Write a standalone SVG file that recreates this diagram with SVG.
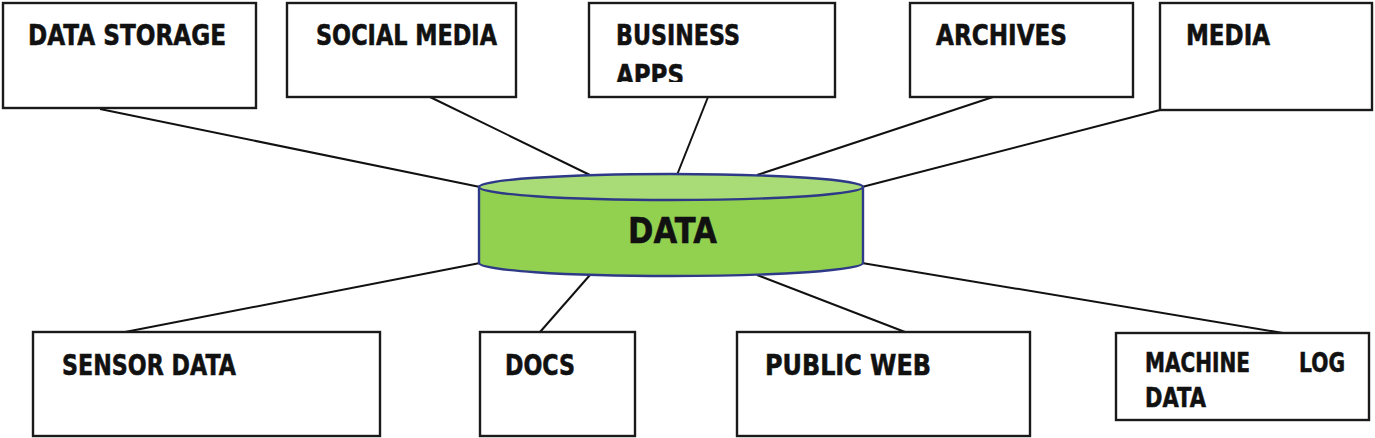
<svg xmlns="http://www.w3.org/2000/svg" width="1375" height="438" viewBox="0 0 1375 438">
<style>
.box{fill:#fff;stroke:#1a1a1a;stroke-width:2.4}
.lbl{font-family:"DejaVu Sans","Liberation Sans",sans-serif;font-weight:bold;font-size:28px;fill:#111;stroke:#111;stroke-width:0.6}
.con{stroke:#111;stroke-width:2;fill:none}
</style>
<defs>
<clipPath id="clipApps"><rect x="589" y="4" width="246" height="78"/></clipPath>
</defs>
<rect width="1375" height="438" fill="#fff"/>
<g id="connectors">
<line class="con" x1="100" y1="109" x2="480" y2="187"/>
<line class="con" x1="430" y1="97" x2="592" y2="176"/>
<line class="con" x1="708" y1="97" x2="677" y2="175"/>
<line class="con" x1="993" y1="97" x2="757" y2="175"/>
<line class="con" x1="1160" y1="110" x2="862" y2="187"/>
<line class="con" x1="125" y1="332" x2="480" y2="263"/>
<line class="con" x1="540" y1="332" x2="590" y2="275"/>
<line class="con" x1="905" y1="332" x2="757" y2="275"/>
<line class="con" x1="1283" y1="333" x2="862" y2="263"/>
</g>
<g id="data">
<path d="M479,187 L479,263 A192,13 0 0 0 863,263 L863,187 Z" fill="#92d050" stroke="#2e3a87" stroke-width="2.4"/>
<ellipse cx="671" cy="187" rx="192" ry="13" fill="#a9dc76" stroke="#2e3a87" stroke-width="2.4"/>
<text class="lbl" x="628" y="243" style="font-size:36px" textLength="89" lengthAdjust="spacingAndGlyphs">DATA</text>
</g>
<g id="data-storage">
<rect class="box" x="3" y="3" width="253" height="105"/>
<text class="lbl" x="28" y="45" textLength="198" lengthAdjust="spacingAndGlyphs">DATA STORAGE</text>
</g>
<g id="social-media">
<rect class="box" x="287" y="3" width="229" height="94"/>
<text class="lbl" x="316" y="45" textLength="181" lengthAdjust="spacingAndGlyphs">SOCIAL MEDIA</text>
</g>
<g id="business-apps">
<rect class="box" x="589" y="3" width="246" height="94"/>
<text class="lbl" x="616" y="45" textLength="124" lengthAdjust="spacingAndGlyphs">BUSINESS</text>
<text class="lbl" x="616" y="85" textLength="68" lengthAdjust="spacingAndGlyphs" clip-path="url(#clipApps)">APPS</text>
</g>
<g id="archives">
<rect class="box" x="910" y="3" width="223" height="94"/>
<text class="lbl" x="936" y="45" textLength="131" lengthAdjust="spacingAndGlyphs">ARCHIVES</text>
</g>
<g id="media">
<rect class="box" x="1160" y="3" width="212" height="107"/>
<text class="lbl" x="1186" y="45" textLength="84" lengthAdjust="spacingAndGlyphs">MEDIA</text>
</g>
<g id="sensor-data">
<rect class="box" x="33" y="332" width="347" height="104"/>
<text class="lbl" x="62" y="375" textLength="174" lengthAdjust="spacingAndGlyphs">SENSOR DATA</text>
</g>
<g id="docs">
<rect class="box" x="480" y="332" width="155" height="104"/>
<text class="lbl" x="505" y="375" textLength="70" lengthAdjust="spacingAndGlyphs">DOCS</text>
</g>
<g id="public-web">
<rect class="box" x="737" y="332" width="293" height="104"/>
<text class="lbl" x="765" y="375" textLength="166" lengthAdjust="spacingAndGlyphs">PUBLIC WEB</text>
</g>
<g id="machine-log-data">
<rect class="box" x="1116" y="333" width="253" height="87"/>
<text class="lbl" x="1145" y="372" style="font-size:26px" textLength="105" lengthAdjust="spacingAndGlyphs">MACHINE</text>
<text class="lbl" x="1299" y="372" style="font-size:26px" textLength="46" lengthAdjust="spacingAndGlyphs">LOG</text>
<text class="lbl" x="1145" y="407" style="font-size:26px" textLength="61" lengthAdjust="spacingAndGlyphs">DATA</text>
</g>
</svg>
